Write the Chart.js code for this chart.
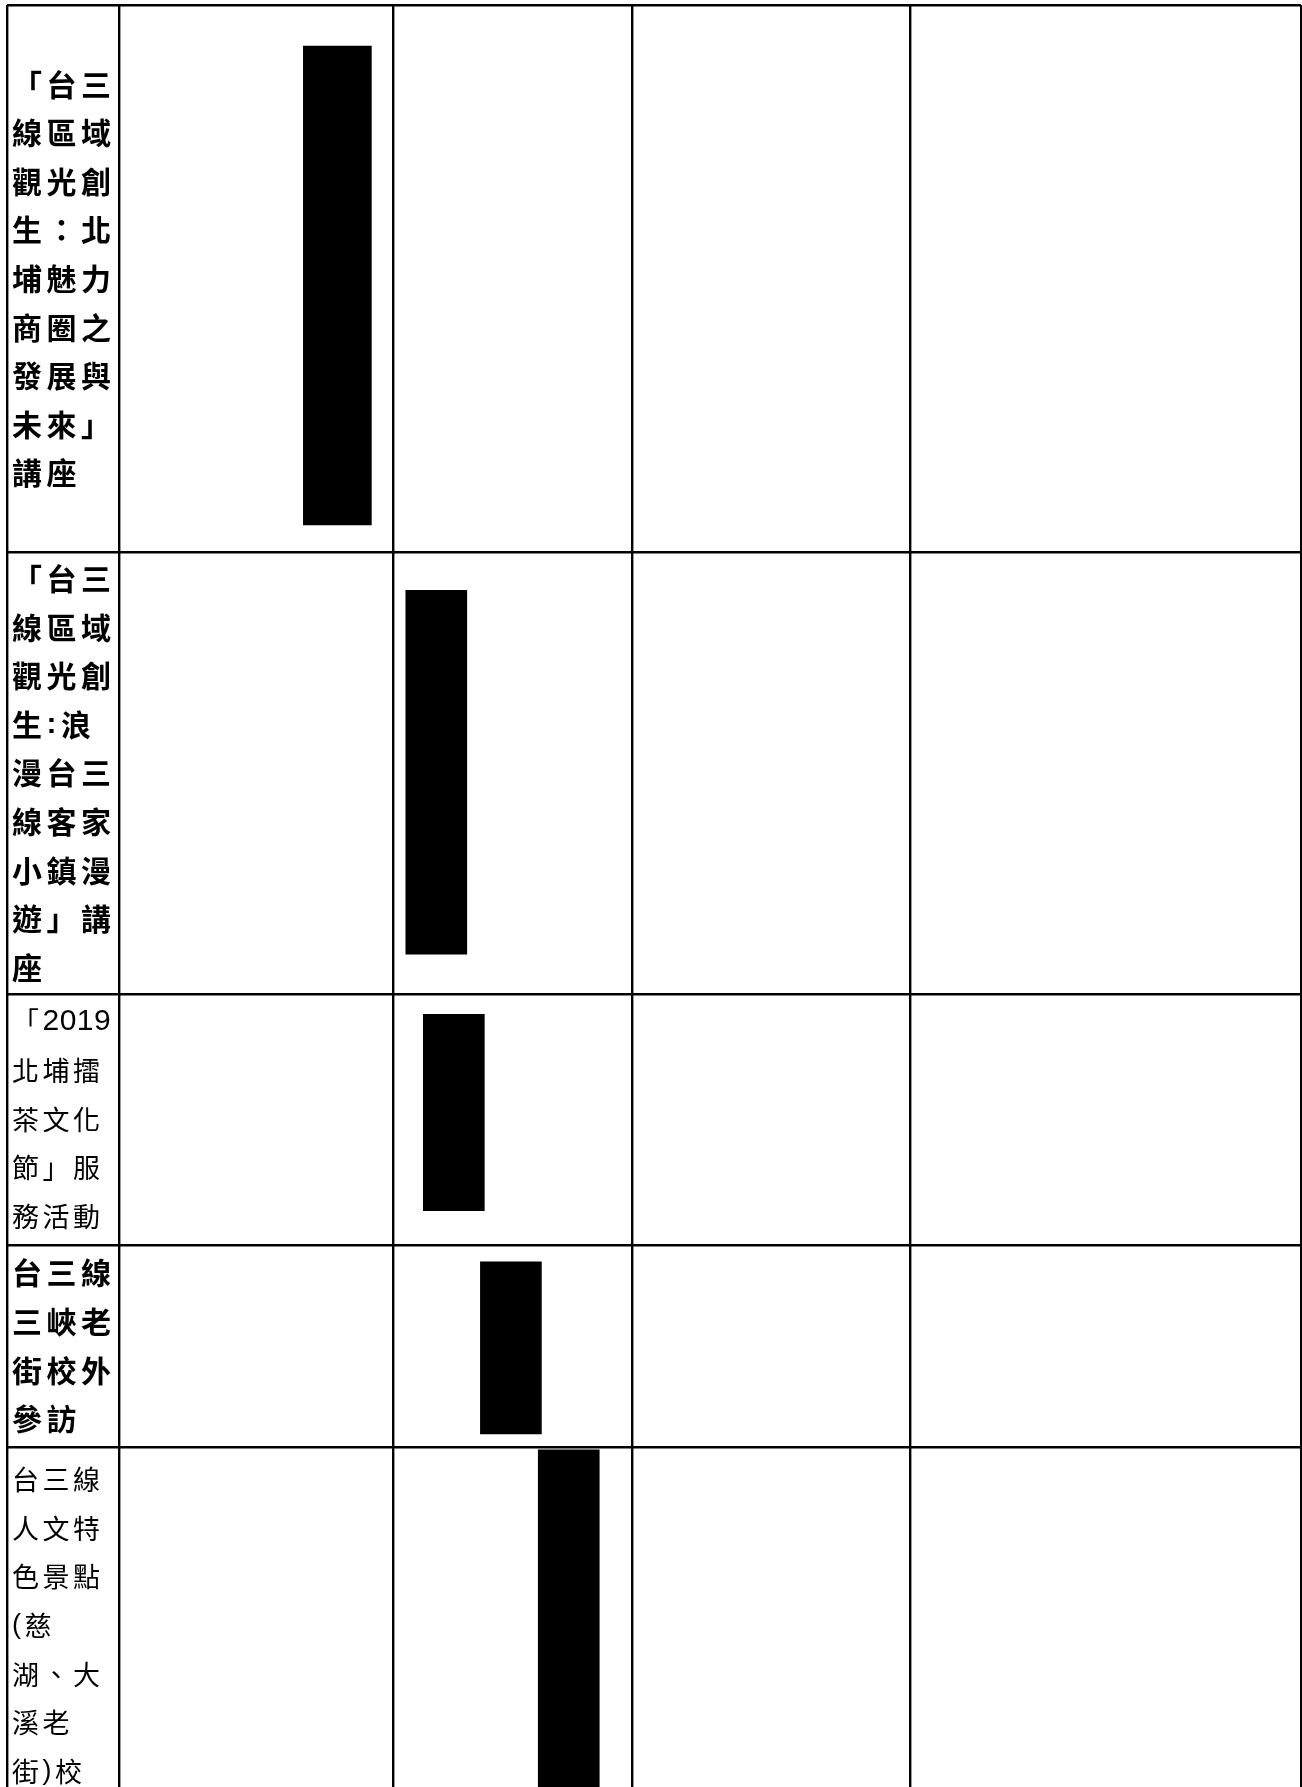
<!DOCTYPE html>
<html lang="zh-Hant">
<head>
<meta charset="utf-8">
<title>台三線 活動時程</title>
<script src="https://cdn.jsdelivr.net/npm/chart.js@4.4.1/dist/chart.umd.min.js"></script>
<style>
  html, body { margin: 0; padding: 0; background: #fff; overflow: hidden; }
  canvas { display: block; }
</style>
</head>
<body>
<canvas id="tableau" width="1302" height="1787"></canvas>
<script>
// Bords des colonnes du tableau (cm depuis le bord gauche)
const bordsColonnes = [0, 1.47, 5.08, 8.22, 11.86, 17.0];
// Bords des lignes du tableau (cm depuis le haut)
const bordsLignes = [0, 7.19, 12.99, 16.29, 18.94, 24.28];
// Hauteur visible de la page (cm)
const hauteurVisible = 23.41;

// Intitulés des activités, coupés comme dans la cellule
const activites = [
  ["「台三", "線區域", "觀光創", "生：北", "埔魅力", "商圈之", "發展與", "未來」", "講座"],
  ["「台三", "線區域", "觀光創", "生:浪", "漫台三", "線客家", "小鎮漫", "遊」講", "座"],
  ["「2019", "北埔擂", "茶文化", "節」服", "務活動"],
  ["台三線", "三峽老", "街校外", "參訪"],
  ["台三線", "人文特", "色景點", "(慈", "湖、大", "溪老", "街)校", "外參訪"]
];
const activitesGras = [true, true, false, true, false];

// Barres : position sur l'axe du temps (cm) et étendue verticale (cm)
const barresX = [4.34, 5.64, 5.87, 6.62, 7.38];
const barresDebut = [0.54, 7.69, 13.26, 16.51, 18.98];
const barresFin = [6.83, 12.47, 15.84, 18.77, 24.0];

// Styles
const largeursBarres = [68, 61, 61, 61, 61];
const INTERLIGNE = 48.6;

// Fonction pour écrire les intitulés dans la première colonne
const pluginIntitules = {
  id: "intitules",
  afterDraw(chart) {
    const ctx = chart.ctx;
    const sx = chart.scales.x;
    const sy = chart.scales.y;
    ctx.save();
    ctx.fillStyle = "#000";
    ctx.textBaseline = "middle";
    ctx.textAlign = "left";
    activites.forEach((lignesTexte, i) => {
      const haut = sy.getPixelForValue(bordsLignes[i]);
      const bas = sy.getPixelForValue(bordsLignes[i + 1]);
      const centre = (haut + bas) / 2;
      const gras = activitesGras[i];
      const taille = gras ? 30 : 27;
      const espace = gras ? 4.5 : 3.5;
      const y0 = centre - ((lignesTexte.length - 1) / 2) * INTERLIGNE;
      lignesTexte.forEach((txt, k) => {
        let px = sx.getPixelForValue(bordsColonnes[0]) + 5;
        const py = y0 + k * INTERLIGNE;
        [...txt].forEach((c) => {
          const ascii = c.charCodeAt(0) < 128;
          const chiffre = /[0-9]/.test(c);
          if (ascii) {
            ctx.font = (gras ? "bold " : "") + (chiffre ? 30 : taille) + "px 'Liberation Sans'";
          } else {
            ctx.font = (gras ? "bold " : "") + taille + "px 'Noto Sans CJK TC'";
          }
          ctx.fillText(c, px, py);
          px += ctx.measureText(c).width + (chiffre ? 0.5 : espace);
        });
      });
    });
    ctx.restore();
  }
};

// Fonction pour construire les jeux de données des barres
function construireBarres() {
  return barresX.map((bx, i) => ({
    label: "活動 " + (i + 1),
    data: [{ x: bx, y: [barresDebut[i], barresFin[i]] }],
    backgroundColor: "#000",
    borderWidth: 0,
    barThickness: largeursBarres[i],
    grouped: false
  }));
}

// Fonction pour les graduations = bords du tableau
function graduations(bords, max) {
  return function (scale) {
    scale.ticks = bords.filter((v) => v <= max).map((v) => ({ value: v }));
  };
}

const grille = { color: "#000", lineWidth: 2.4, drawTicks: false, offset: false };

new Chart(document.getElementById("tableau").getContext("2d"), {
  type: "bar",
  data: { datasets: construireBarres() },
  options: {
    responsive: false,
    animation: false,
    events: [],
    layout: { padding: { left: 7, top: 5, right: 1, bottom: 0 } },
    plugins: { legend: { display: false }, tooltip: { enabled: false } },
    scales: {
      x: {
        type: "linear",
        min: 0,
        max: bordsColonnes[bordsColonnes.length - 1],
        offset: false,
        afterBuildTicks: graduations(bordsColonnes, 17.0),
        ticks: { display: false },
        grid: grille,
        border: { display: false }
      },
      y: {
        type: "linear",
        reverse: true,
        min: 0,
        max: hauteurVisible,
        afterBuildTicks: graduations(bordsLignes, hauteurVisible),
        ticks: { display: false },
        grid: grille,
        border: { display: false }
      }
    }
  },
  plugins: [pluginIntitules]
});
</script>
</body>
</html>
